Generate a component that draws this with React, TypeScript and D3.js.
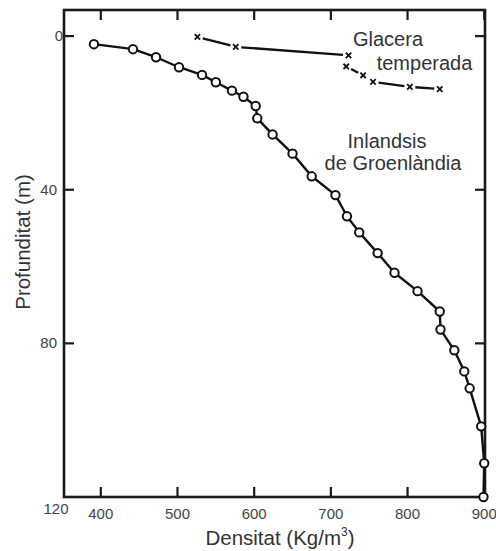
import React from "react";
import * as d3 from "d3";

// Inlandsis de Groenlàndia: density (kg/m3) vs depth (m)
const greenlandDensity = [391, 442, 472, 502, 532, 550, 571, 586, 602, 604, 624, 650, 675, 706, 721, 737, 761, 783, 813, 842, 843, 861, 874, 881, 896, 900, 899];
const greenlandDepth = [2.1, 3.4, 5.5, 8.1, 10.1, 12.0, 14.2, 15.8, 18.2, 21.4, 25.6, 30.6, 36.5, 41.4, 46.9, 51.1, 56.5, 61.6, 66.4, 71.7, 76.4, 81.8, 87.3, 91.7, 101.6, 111.2, 120];

// Glacera temperada
const temperateDensity = [526, 576, 723, 720, 742, 755, 803, 842];
const temperateDepth = [0.2, 2.8, 5.0, 7.9, 10.2, 11.9, 13.2, 13.8];

const xTicks = [400, 500, 600, 700, 800, 900];
const yTicks = [0, 40, 80, 120];

const W = 496;
const H = 551;
const left = 64, right = 485, top = 10, bottom = 497;

export default function App() {
  const x = d3.scaleLinear().domain([352, 901]).range([left, right]);
  const y = d3.scaleLinear().domain([-6.8, 120]).range([top, bottom]);

  const gPts: [number, number][] = greenlandDensity.map((d, i) => [x(d), y(greenlandDepth[i])]);
  const tPts: [number, number][] = temperateDensity.map((d, i) => [x(d), y(temperateDepth[i])]);
  const line = d3.line<[number, number]>();

  const gap = 5.5;
  const segs = tPts.slice(1).map((p, i) => {
    const a = tPts[i];
    const dx = p[0] - a[0], dy = p[1] - a[1];
    const L = Math.hypot(dx, dy);
    if (L <= 2 * gap + 1) return null;
    const ux = dx / L, uy = dy / L;
    return [a[0] + ux * gap, a[1] + uy * gap, p[0] - ux * gap, p[1] - uy * gap];
  });

  const font = "'Liberation Sans', Arial, Helvetica, sans-serif";
  const tickLen = 10;

  return (
    <svg width={W} height={H} style={{ position: "absolute", left: 0, top: 0, background: "#fff" }} fontFamily={font}>
      {/* frame */}
      <rect x={left} y={top} width={right - left} height={bottom - top} fill="none" stroke="#1a1a1a" strokeWidth={2.6} />
      {/* x ticks bottom & top */}
      {xTicks.map((t) => (
        <g key={"xt" + t}>
          <line x1={x(t)} x2={x(t)} y1={bottom} y2={bottom - tickLen} stroke="#1a1a1a" strokeWidth={2.2} />
          <line x1={x(t)} x2={x(t)} y1={top} y2={top + tickLen} stroke="#1a1a1a" strokeWidth={2.2} />
          <text x={x(t)} y={519} textAnchor="middle" fontSize={15} fill="#444">{t}</text>
        </g>
      ))}
      {/* y ticks left & right */}
      {yTicks.filter((t) => t < 120).map((t) => (
        <g key={"yt" + t}>
          <line x1={left} x2={left + tickLen} y1={y(t)} y2={y(t)} stroke="#1a1a1a" strokeWidth={2.2} />
          <line x1={right} x2={right - tickLen} y1={y(t)} y2={y(t)} stroke="#1a1a1a" strokeWidth={2.2} />
          <text x={t === 0 ? 63 : 57} y={y(t) + 5} textAnchor="end" fontSize={15} fill="#444">{t}</text>
        </g>
      ))}
      <text x={56} y={514} textAnchor="middle" fontSize={15} fill="#444">{yTicks[3]}</text>

      {/* axis titles */}
      <text x={280} y={545} textAnchor="middle" fontSize={20.5} fill="#333">
        Densitat (Kg/m<tspan fontSize={12} dy={-9}>3</tspan><tspan dy={9}>)</tspan>
      </text>
      <text transform="translate(30,242) rotate(-90)" textAnchor="middle" fontSize={20.5} fill="#333">Profunditat (m)</text>

      {/* Greenland curve */}
      <path d={line(gPts) || ""} fill="none" stroke="#111" strokeWidth={2.4} strokeLinejoin="round" />
      {gPts.map((p, i) => (
        <circle key={"c" + i} cx={p[0]} cy={p[1]} r={4.2} fill="#fff" stroke="#111" strokeWidth={2} />
      ))}

      {/* Temperate glacier */}
      {segs.map((s, i) => s && (
        <line key={"s" + i} x1={s[0]} y1={s[1]} x2={s[2]} y2={s[3]} stroke="#111" strokeWidth={2.3} />
      ))}
      {tPts.map((p, i) => (
        <g key={"x" + i} stroke="#111" strokeWidth={1.8}>
          <line x1={p[0] - 2.7} y1={p[1] - 2.7} x2={p[0] + 2.7} y2={p[1] + 2.7} />
          <line x1={p[0] - 2.7} y1={p[1] + 2.7} x2={p[0] + 2.7} y2={p[1] - 2.7} />
        </g>
      ))}

      {/* annotations */}
      <text x={388} y={46} textAnchor="middle" fontSize={20} fill="#333">Glacera</text>
      <text x={424.5} y={70} textAnchor="middle" fontSize={20} fill="#333">temperada</text>
      <text x={387} y={148} textAnchor="middle" fontSize={20} fill="#333">Inlandsis</text>
      <text x={393} y={170} textAnchor="middle" fontSize={20} fill="#333">de Groenlàndia</text>
    </svg>
  );
}
